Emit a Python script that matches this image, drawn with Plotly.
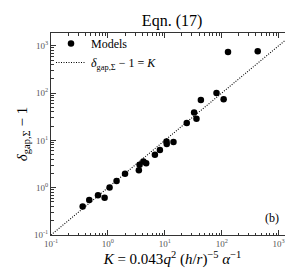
import plotly.graph_objects as go

# Model data
K_models = [0.36, 0.47, 0.67, 0.875, 1.07, 1.42, 2.0, 3.5, 3.6, 4.2, 4.7, 6.7, 8.2,
            10.7, 10.8, 14.2, 24.3, 32.7, 36, 43, 81, 108, 129, 429]
delta_models = [0.40, 0.55, 0.69, 0.61, 1.01, 1.38, 1.96, 2.35, 3.04, 3.59, 3.3, 5.0, 6.3,
                9.5, 8.4, 9.2, 23.4, 39, 28.5, 71, 100, 74, 736, 762]

# Reference relation delta - 1 = K
line_K = [0.1, 2000]
line_delta = [0.1, 2000]

tick_vals = [0.1, 1, 10, 100, 1000]
tick_text = ["10<sup>-1</sup>", "10<sup>0</sup>", "10<sup>1</sup>", "10<sup>2</sup>", "10<sup>3</sup>"]

FONT = "Liberation Serif"

fig = go.Figure()
fig.add_trace(go.Scatter(x=K_models, y=delta_models, mode="markers", name="Models",
                         marker=dict(color="black", size=6.5)))
fig.add_trace(go.Scatter(x=line_K, y=line_delta, mode="lines",
                         name="<i>δ</i><sub>gap,Σ</sub> − 1 = <i>K</i>",
                         line=dict(color="black", width=1.1, dash="1px,1.5px")))

axis_common = dict(
    type="log", range=[-1, 3.27], tickvals=tick_vals, ticktext=tick_text,
    ticks="inside", ticklen=5, tickwidth=0.8, tickcolor="#333",
    mirror="allticks", showline=True, linecolor="#333", linewidth=1,
    showgrid=False, zeroline=False,
    tickfont=dict(family=FONT, size=9, color="#555"),
    minor=dict(ticks="inside", ticklen=2.5, tickwidth=0.6, tickcolor="#333",
               dtick="D1", showgrid=False),
)

fig.update_layout(
    width=293, height=271,
    margin=dict(l=43, r=7, t=25, b=44),
    paper_bgcolor="white", plot_bgcolor="white",
    font=dict(family=FONT, color="black"),
    title=dict(text="Eqn. (17)", x=0.56, xanchor="center", y=0.955, yanchor="middle",
               font=dict(family=FONT, size=16, color="black")),
    xaxis=dict(axis_common,
               title=dict(text="<i>K</i> = 0.043<i>q</i><sup>2</sup> (<i>h</i>/<i>r</i>)<sup>−5</sup> <i>α</i><sup>−1</sup>",
                          font=dict(family=FONT, size=15), standoff=4)),
    yaxis=dict(axis_common,
               title=dict(text="<i>δ</i><sub>gap,Σ</sub> − 1",
                          font=dict(family=FONT, size=15), standoff=2)),
    legend=dict(x=0.0, y=1.02, xanchor="left", yanchor="top", bgcolor="rgba(0,0,0,0)",
                font=dict(family=FONT, size=12), itemwidth=30, tracegroupgap=0),
    showlegend=True,
    annotations=[dict(text="(b)", xref="paper", yref="paper", x=0.945, y=0.04,
                      xanchor="right", yanchor="bottom", showarrow=False,
                      font=dict(family=FONT, size=12, color="black"))],
)

fig.write_html("out.html")
